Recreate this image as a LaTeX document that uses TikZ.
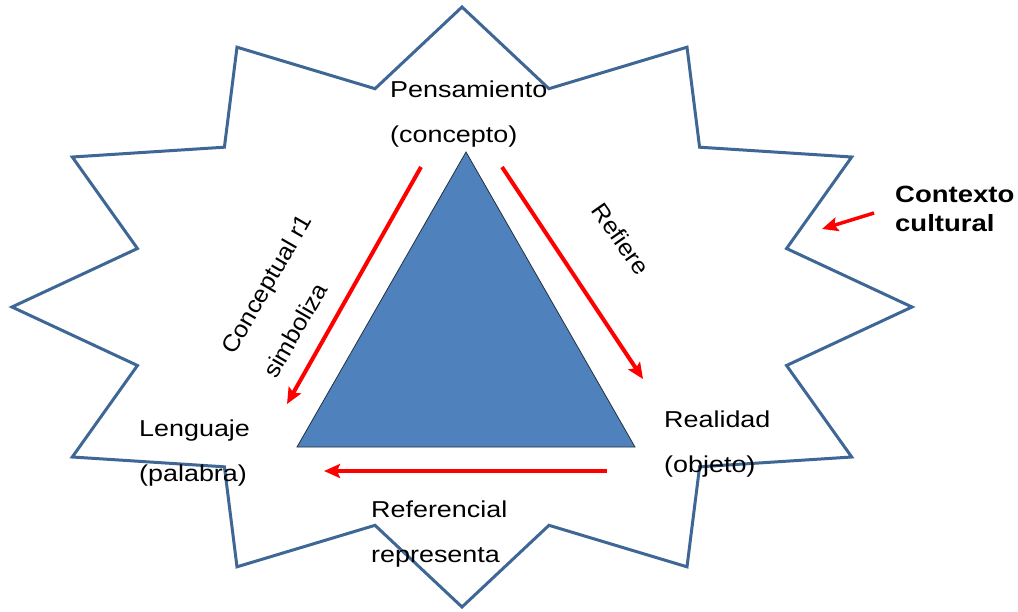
\documentclass[tikz,border=0pt]{standalone}
\usepackage{fontspec}
\setmainfont{Liberation Sans}[FakeStretch=1.17]
\newfontfamily\rotfont{Liberation Sans}[FakeStretch=1.07]
\usepackage{tikz}
\usetikzlibrary{calc,arrows.meta}
\definecolor{bg}{HTML}{FFFFFF}
\definecolor{burstline}{HTML}{3E6795}
\definecolor{trifill}{HTML}{4F81BD}
\definecolor{triline}{HTML}{23313F}
\definecolor{redarrow}{HTML}{FF0000}
\definecolor{text}{HTML}{000000}
\tikzset{
  burst/.style={draw=burstline, line width=3pt, line join=miter},
  tri/.style={fill=trifill, draw=triline, line width=0.8pt},
  rel/.style={draw=redarrow, line width=4pt, -{Stealth[length=16pt,width=14pt,inset=3pt]}},
  lab/.style={text=text, inner sep=0pt, align=left, anchor=base west,
    font=\fontsize{23}{45}\selectfont},
  rlab/.style={text=text, inner sep=0pt, align=left, anchor=base west,
    font=\rotfont\fontsize{23.5}{48}\selectfont},
  ctx/.style={text=text, inner sep=0pt, align=left, anchor=base west,
    font=\bfseries\fontsize{23.5}{29}\selectfont},
}
\begin{document}
\begin{tikzpicture}[x=1pt,y=-1pt]
  \useasboundingbox[fill=bg] (0,0) rectangle (1018,611);
  \coordinate (C) at (462,307);
  % twelve-point burst
  \draw[burst] ($(C)+(90:450 and 300)$)
    \foreach \a in {105,135,...,435} {
      -- ($(C)+(\a:336 and 226)$) -- ($(C)+(\a+15:450 and 300)$) } -- cycle;
  % triangle
  \coordinate (apex) at (466,152);
  \coordinate (bl) at (297,447);
  \coordinate (br) at (635,447);
  \draw[tri] (apex) -- (bl) -- (br) -- cycle;
  % labels (anchored at the baseline of the last line)
  \node[lab] (pens) at (390,142) {Pensamiento\\(concepto)};
  \node[lab] (leng) at (139,481) {Lenguaje\\(palabra)};
  \node[lab] (real) at (664,472) {Realidad\\(objeto)};
  \node[lab] (refe) at (371,562) {Referencial\\representa};
  \node[ctx] (ctxt) at (895,231) {Contexto\\cultural};
  \node[rlab, rotate=60] (conc) at (276,380) {Conceptual r1\\simboliza};
  \node[rlab, anchor=center, rotate=-55] (refi) at (621,239) {Refiere};
  % arrows
  \coordinate (l1) at (421,167); \coordinate (l2) at (287,404);
  \coordinate (r1) at (502,167); \coordinate (r2) at (643,379);
  \coordinate (b1) at (607,471); \coordinate (b2) at (324,471);
  \coordinate (c1) at (874,213); \coordinate (c2) at (822,229);
  \draw[rel] (l1) -- (l2);
  \draw[rel] (r1) -- (r2);
  \draw[rel] (b1) -- (b2);
  \draw[rel, line width=3.5pt] (c1) -- (c2);
\end{tikzpicture}
\end{document}
